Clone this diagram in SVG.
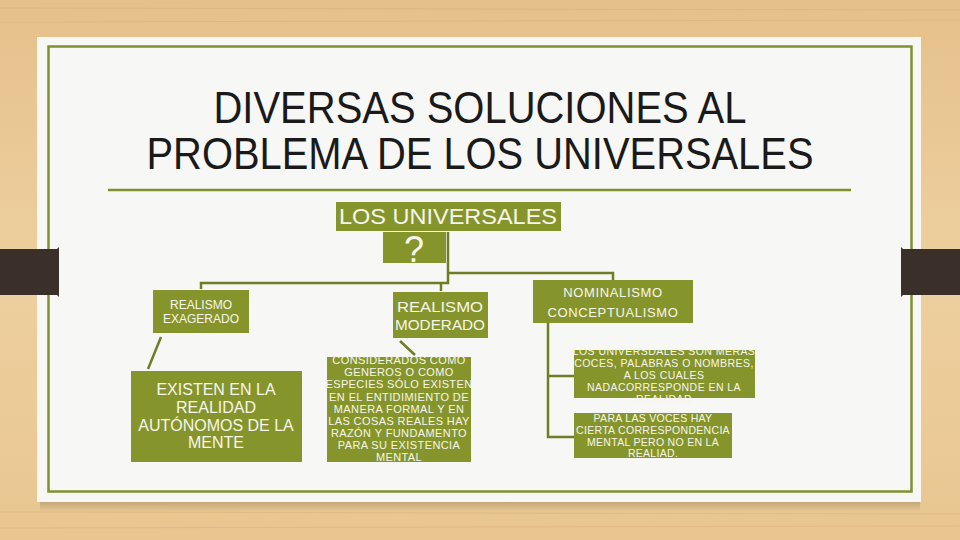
<svg xmlns="http://www.w3.org/2000/svg" width="960" height="540" viewBox="0 0 960 540">
<defs>
<linearGradient id="wood" x1="0" y1="0" x2="0" y2="1">
<stop offset="0" stop-color="#e6c08a"/>
<stop offset="0.5" stop-color="#edd0a0"/>
<stop offset="1" stop-color="#e9c68f"/>
</linearGradient>
<linearGradient id="shadow" x1="0" y1="0" x2="0" y2="1">
<stop offset="0" stop-color="#8a7050" stop-opacity="0.45"/>
<stop offset="1" stop-color="#8a7050" stop-opacity="0"/>
</linearGradient>
<style>
.box{fill:#86952b}
.t{fill:#f6f6ec;font-family:"Liberation Sans",Arial,sans-serif;text-anchor:middle}
.conn{fill:none;stroke:#6f7d24;stroke-width:2.5}
.title{fill:#1a1a1a;font-family:"Liberation Sans",Arial,sans-serif;text-anchor:middle;font-size:44px}
</style>
</defs>
<rect width="960" height="540" fill="url(#wood)"/>
<g opacity="0.25" stroke="#c99a5c" stroke-width="1">
<line x1="0" y1="8" x2="960" y2="10"/>
<line x1="0" y1="22" x2="960" y2="20"/>
<line x1="0" y1="512" x2="960" y2="514"/>
<line x1="0" y1="528" x2="960" y2="526"/>
</g>
<rect x="40" y="500" width="880" height="12" fill="url(#shadow)"/>
<rect x="37" y="37" width="884" height="465" fill="#f7f7f5"/>
<rect x="48.5" y="46.5" width="863" height="445" fill="none" stroke="#7f902e" stroke-width="2.5"/>
<path d="M0,249 H57 L59,247 V297 L57,295 H0 Z" fill="#3b2f29"/>
<path d="M960,249 H903 L901,247 V297 L903,295 H960 Z" fill="#3b2f29"/>
<g id="title">
<text class="title"><tspan x="480" y="123" textLength="533" lengthAdjust="spacingAndGlyphs">DIVERSAS SOLUCIONES AL</tspan><tspan x="480" y="169" textLength="667" lengthAdjust="spacingAndGlyphs">PROBLEMA DE LOS UNIVERSALES</tspan></text>
</g>
<line x1="108" y1="190" x2="851" y2="190" stroke="#7f902e" stroke-width="2.5"/>
<g id="connectors">
<path class="conn" d="M448,232 V283 H201 V289"/>
<path class="conn" d="M441,283 V291"/>
<path class="conn" d="M448,273 H613 V280"/>
<path class="conn" d="M548,323 V437 H574"/>
<path class="conn" d="M548,376 H574"/>
<line class="conn" x1="161" y1="337" x2="148" y2="369"/>
<line class="conn" x1="400" y1="341" x2="415" y2="355"/>
</g>
<g id="universales">
<rect class="box" x="336" y="202" width="225" height="29"/>
<text class="t" x="448" y="224" font-size="22" textLength="218" lengthAdjust="spacingAndGlyphs">LOS UNIVERSALES</text>
</g>
<g id="pregunta">
<rect class="box" x="383" y="232" width="63" height="31"/>
<text class="t" x="414" y="262" font-size="36">?</text>
</g>
<g id="realismo-exagerado">
<rect class="box" x="153" y="290" width="96" height="43"/>
<text class="t" x="201" y="309" font-size="12">REALISMO</text>
<text class="t" x="201" y="323" font-size="12">EXAGERADO</text>
</g>
<g id="existen">
<rect class="box" x="131" y="371" width="171" height="91"/>
<text class="t" font-size="16" x="216" y="395">EXISTEN EN LA</text>
<text class="t" font-size="16" x="216" y="413">REALIDAD</text>
<text class="t" font-size="16" x="216" y="431">AUTÓNOMOS DE LA</text>
<text class="t" font-size="16" x="216" y="448">MENTE</text>
</g>
<g id="realismo-moderado">
<rect class="box" x="393" y="292" width="95" height="46"/>
<text class="t" x="440" y="312" font-size="15" textLength="86" lengthAdjust="spacingAndGlyphs">REALISMO</text>
<text class="t" x="440" y="330" font-size="15" textLength="90" lengthAdjust="spacingAndGlyphs">MODERADO</text>
</g>
<g id="considerados" font-size="11" letter-spacing="0.4">
<rect class="box" x="327" y="357" width="144" height="105"/>
<text class="t" x="399" y="364">CONSIDERADOS COMO</text>
<text class="t" x="399" y="376">GENEROS O COMO</text>
<text class="t" x="399" y="388">ESPECIES SÓLO EXISTEN</text>
<text class="t" x="399" y="400.5">EN EL ENTIDIMIENTO DE</text>
<text class="t" x="399" y="412.5">MANERA FORMAL Y EN</text>
<text class="t" x="399" y="424.5">LAS COSAS REALES HAY</text>
<text class="t" x="399" y="436.5">RAZÓN Y FUNDAMENTO</text>
<text class="t" x="399" y="448.5">PARA SU EXISTENCIA</text>
<text class="t" x="399" y="460.5">MENTAL</text>
</g>
<g id="nominalismo" font-size="13" letter-spacing="0.65">
<rect class="box" x="533" y="280" width="160" height="43"/>
<text class="t" x="613" y="297">NOMINALISMO</text>
<text class="t" x="613" y="317">CONCEPTUALISMO</text>
</g>
<g id="universales-voces" font-size="10.5" letter-spacing="0.45">
<rect class="box" x="574" y="350" width="181" height="48"/>
<text class="t" x="664" y="355">LOS UNIVERSDALES SON MERAS</text>
<text class="t" x="664" y="367">COCES, PALABRAS O NOMBRES,</text>
<text class="t" x="664" y="379">A LOS CUALES</text>
<text class="t" x="664" y="391">NADACORRESPONDE EN LA</text>
<text class="t" x="664" y="403">REALIDAD</text>
</g>
<g id="para-las-voces" font-size="10.5" letter-spacing="0.3">
<rect class="box" x="574" y="413" width="158" height="45"/>
<text class="t" x="653" y="422">PARA LAS VOCES HAY</text>
<text class="t" x="653" y="434">CIERTA CORRESPONDENCIA</text>
<text class="t" x="653" y="446">MENTAL PERO NO EN LA</text>
<text class="t" x="653" y="457">REALIAD.</text>
</g>
</svg>
